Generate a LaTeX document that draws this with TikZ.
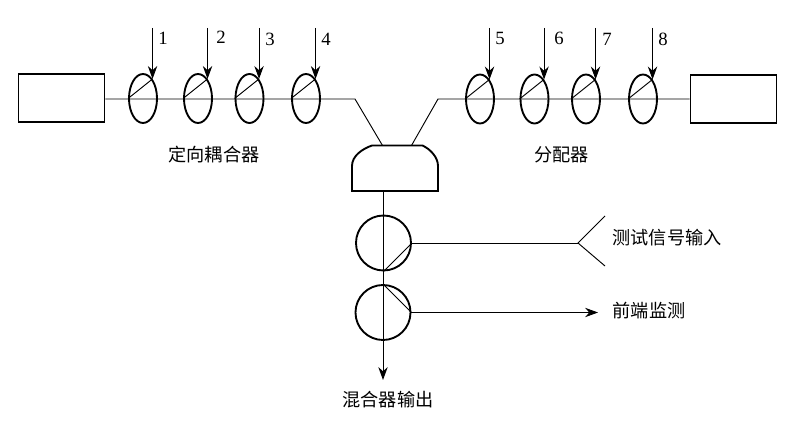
\documentclass[tikz,border=0pt]{standalone}
\usepackage{fontspec}
\setmainfont{Liberation Serif}
\newfontfamily\cjk{Noto Sans CJK SC}
\usetikzlibrary{arrows.meta, shapes.geometric}

\begin{document}
\begin{tikzpicture}[>={Stealth[length=11pt,width=8pt]}, x=0.03cm, y=-0.03cm, line width=0.8pt,
    box/.style={draw, line width=1.6pt, minimum width=2.58cm, minimum height=1.45cm, inner sep=0pt},
    coupler/.style={draw, ellipse, line width=1.6pt, minimum width=0.84cm, minimum height=1.47cm, inner sep=0pt},
    tap/.style={draw, circle, line width=1.6pt, minimum size=1.65cm, inner sep=0pt},
    num/.style={font=\fontsize{16}{16}\selectfont, inner sep=0pt},
    cnlabel/.style={font=\cjk\fontsize{15.5}{15.5}\selectfont, inner sep=0pt}]
    \useasboundingbox (0,0) rectangle (800,427);

    \node[box] (srcbox) at (61.5,98) {};
    \node[box] (endbox) at (733.5,99) {};

    \node[coupler] (coup1) at (143,98.5) {};
    \node[coupler] (coup2) at (198,98.5) {};
    \node[coupler] (coup3) at (249.5,98.5) {};
    \node[coupler] (coup4) at (306,98.5) {};
    \node[coupler] (coup5) at (480,99) {};
    \node[coupler] (coup6) at (534.5,99) {};
    \node[coupler] (coup7) at (586,99) {};
    \node[coupler] (coup8) at (643,99) {};

    \coordinate (bendl) at (355,99);
    \coordinate (bendr) at (438,99);
    \coordinate (combl) at (382.5,145.5);
    \coordinate (combr) at (411.5,145.5);
    \coordinate (combout) at (383,191);

    \draw[line width=1.6pt] (352,191) -- (352,166) .. controls (352,156) and (362,149) .. (372,145.5)
        -- (422.5,145.5) .. controls (430,149) and (438,157) .. (438,166) -- (438,191) -- cycle;

    \draw (srcbox.east |- bendl) -- (bendl) -- (combl);
    \draw (endbox.west |- bendr) -- (bendr) -- (combr);

    \draw (coup1.west) -- (coup1.64);
    \draw (coup2.west) -- (coup2.64);
    \draw (coup3.west) -- (coup3.64);
    \draw (coup4.west) -- (coup4.64);
    \draw (coup5.west) -- (coup5.64);
    \draw (coup6.west) -- (coup6.64);
    \draw (coup7.west) -- (coup7.64);
    \draw (coup8.west) -- (coup8.64);

    \coordinate (in1) at (coup1.64 |- 0,28);
    \coordinate (in2) at (coup2.64 |- 0,28);
    \coordinate (in3) at (coup3.64 |- 0,28);
    \coordinate (in4) at (coup4.64 |- 0,28);
    \coordinate (in5) at (coup5.64 |- 0,28);
    \coordinate (in6) at (coup6.64 |- 0,28);
    \coordinate (in7) at (coup7.64 |- 0,28);
    \coordinate (in8) at (coup8.64 |- 0,28);

    \draw[->] (in1) -- (coup1.64);
    \draw[->] (in2) -- (coup2.64);
    \draw[->] (in3) -- (coup3.64);
    \draw[->] (in4) -- (coup4.64);
    \draw[->] (in5) -- (coup5.64);
    \draw[->] (in6) -- (coup6.64);
    \draw[->] (in7) -- (coup7.64);
    \draw[->] (in8) -- (coup8.64);

    \node[num] (num1) at (163,38) {1};
    \node[num] (num2) at (221,37) {2};
    \node[num] (num3) at (270,39) {3};
    \node[num] (num4) at (326,39) {4};
    \node[num] (num5) at (500,38) {5};
    \node[num] (num6) at (559,38) {6};
    \node[num] (num7) at (607,39) {7};
    \node[num] (num8) at (663,39) {8};

    \node[cnlabel] (couplertext) at (214,155) {定向耦合器};
    \node[cnlabel] (splittertext) at (561.5,155) {分配器};

    \node[tap] (tapa) at (383.5,243) {};
    \node[tap] (tapb) at (383,312.5) {};
    \coordinate (mixout) at (383,380);
    \coordinate (fork) at (578,243);
    \coordinate (forka) at (605,216);
    \coordinate (forkb) at (605,266);
    \coordinate (monout) at (598,312.5);

    \draw[->] (combout) -- (mixout);
    \draw (tapa.south) -- (tapa.east);
    \draw (tapb.north) -- (tapb.east);
    \draw (tapa.east) -- (fork);
    \draw (forka) -- (fork) -- (forkb);
    \draw[->] (tapb.east) -- (monout);

    \node[cnlabel] (testtext) at (667,238) {测试信号输入};
    \node[cnlabel] (montext) at (649,311) {前端监测};
    \node[cnlabel] (mixtext) at (388,400) {混合器输出};
\end{tikzpicture}
\end{document}
